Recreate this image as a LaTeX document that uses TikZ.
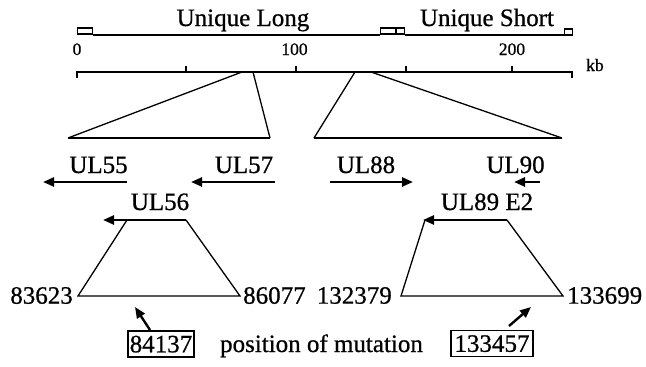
\documentclass[tikz,border=0pt]{standalone}
\usepackage{fontspec}
\setmainfont{Liberation Serif}[AutoFakeBold=0.7]
\usetikzlibrary{arrows.meta}
\begin{document}
\begin{tikzpicture}[x=1pt,y=-1pt,
  lbl/.style={font=\fontsize{25}{28}\selectfont\bfseries, inner sep=0pt, anchor=base},
  small/.style={font=\fontsize{17.5}{20}\selectfont\bfseries, inner sep=0pt, anchor=base},
  repbox/.style={draw, line width=1.5pt, inner sep=0pt},
  thinline/.style={line width=1.3pt},
  boldline/.style={line width=2pt},
  genearrow/.style={line width=2.4pt, -{Triangle[length=11pt,width=9pt]}},
  mutbox/.style={draw, line width=1.5pt, font=\fontsize{25}{28}\selectfont\bfseries, inner sep=0pt, minimum height=26pt, text depth=0pt}
]
\useasboundingbox (0,0) rectangle (646,367);

% genome map
\node[lbl] (ulname) at (243,26) {Unique Long};
\node[lbl] (usname) at (487,26) {Unique Short};
\node[repbox, minimum width=15pt, minimum height=6pt] (trl) at (85,31) {};
\node[repbox, minimum width=15pt, minimum height=6pt] (irl) at (388,31) {};
\node[repbox, minimum width=8pt, minimum height=6pt] (irs) at (400.5,31) {};
\node[repbox, minimum width=8pt, minimum height=6pt] (trs) at (568.5,32) {};
\draw[line width=1.5pt] (trl.south east) -- (irl.south west);
\draw[line width=1.5pt] (irs.south east) -- (irs.south east -| trs.west);

% scale
\node[small] (k0) at (77,55) {0};
\node[small] (k100) at (294.5,55) {100};
\node[small] (k200) at (512,55) {200};
\node[small, anchor=base west] (kb) at (586,71) {kb};
\coordinate (s0) at (77,71.5);
\coordinate (s1) at (572,71.5);
\draw[boldline] ([yshift=-6pt]s0) -- (s0) -- (s1) -- ([yshift=-6pt]s1);
\foreach \t in {186,296,406,512}
  \draw[line width=1.4pt] (\t,71.5) -- (\t,66);

% expansion triangles
\coordinate (a1) at (242,72);
\coordinate (a2) at (253,72);
\coordinate (a3) at (68,138);
\coordinate (a4) at (270,138);
\draw[thinline] (a1) -- (a3);
\draw[thinline] (a2) -- (a4);
\draw[boldline] (a3) -- (a4);
\coordinate (b1) at (355,72);
\coordinate (b2) at (371,72);
\coordinate (b3) at (314,138);
\coordinate (b4) at (562,138);
\draw[thinline] (b1) -- (b3);
\draw[thinline] (b2) -- (b4);
\draw[boldline] (b3) -- (b4);

% genes
\node[lbl] (ul55) at (98.5,173) {UL55};
\node[lbl] (ul57) at (244,173) {UL57};
\node[lbl] (ul88) at (366,173) {UL88};
\node[lbl] (ul90) at (515.5,173) {UL90};
\node[lbl] (ul56) at (160,210) {UL56};
\node[lbl] (ul89) at (487,210) {UL89 E2};
\coordinate (g55a) at (127,182); \coordinate (g55b) at (43,182);
\coordinate (g57a) at (275,182); \coordinate (g57b) at (191,182);
\coordinate (g88a) at (330,182); \coordinate (g88b) at (413,182);
\coordinate (g90a) at (540,182); \coordinate (g90b) at (514,182);
\coordinate (g56a) at (186,220); \coordinate (g56b) at (103,220);
\coordinate (g89a) at (507,220); \coordinate (g89b) at (423,220);
\draw[genearrow] (g55a) -- (g55b);
\draw[genearrow] (g57a) -- (g57b);
\draw[genearrow] (g88a) -- (g88b);
\draw[genearrow] (g90a) -- (g90b);
\draw[genearrow] (g56a) -- (g56b);
\draw[genearrow] (g89a) -- (g89b);

% trapezoids
\coordinate (p1) at (127,220);
\coordinate (p2) at (78,296);
\coordinate (p3) at (240,296);
\draw[thinline] (p1) -- (p2) -- (p3) -- (g56a);
\coordinate (q1) at (425,220);
\coordinate (q2) at (401,296);
\coordinate (q3) at (563,296);
\draw[thinline] (q1) -- (q2) -- (q3) -- (g89a);

\node[lbl, anchor=east] (n1) at (73,295.5) {83623};
\node[lbl, anchor=west] (n2) at (243,295.5) {86077};
\node[lbl, anchor=east] (n3) at (392,295.5) {132379};
\node[lbl, anchor=west] (n4) at (567,295.5) {133699};

% mutations
\node[mutbox, minimum width=66pt] (m1) at (161,344) {84137};
\node[mutbox, minimum width=82pt] (m2) at (492,343.5) {133457};
\node[lbl] (pm) at (321.5,352) {position of mutation};
\coordinate (t1) at (150,330);
\coordinate (h1) at (135,307);
\coordinate (t2) at (509,326);
\coordinate (h2) at (531,307);
\draw[genearrow] (t1) -- (h1);
\draw[genearrow] (t2) -- (h2);
\end{tikzpicture}
\end{document}
